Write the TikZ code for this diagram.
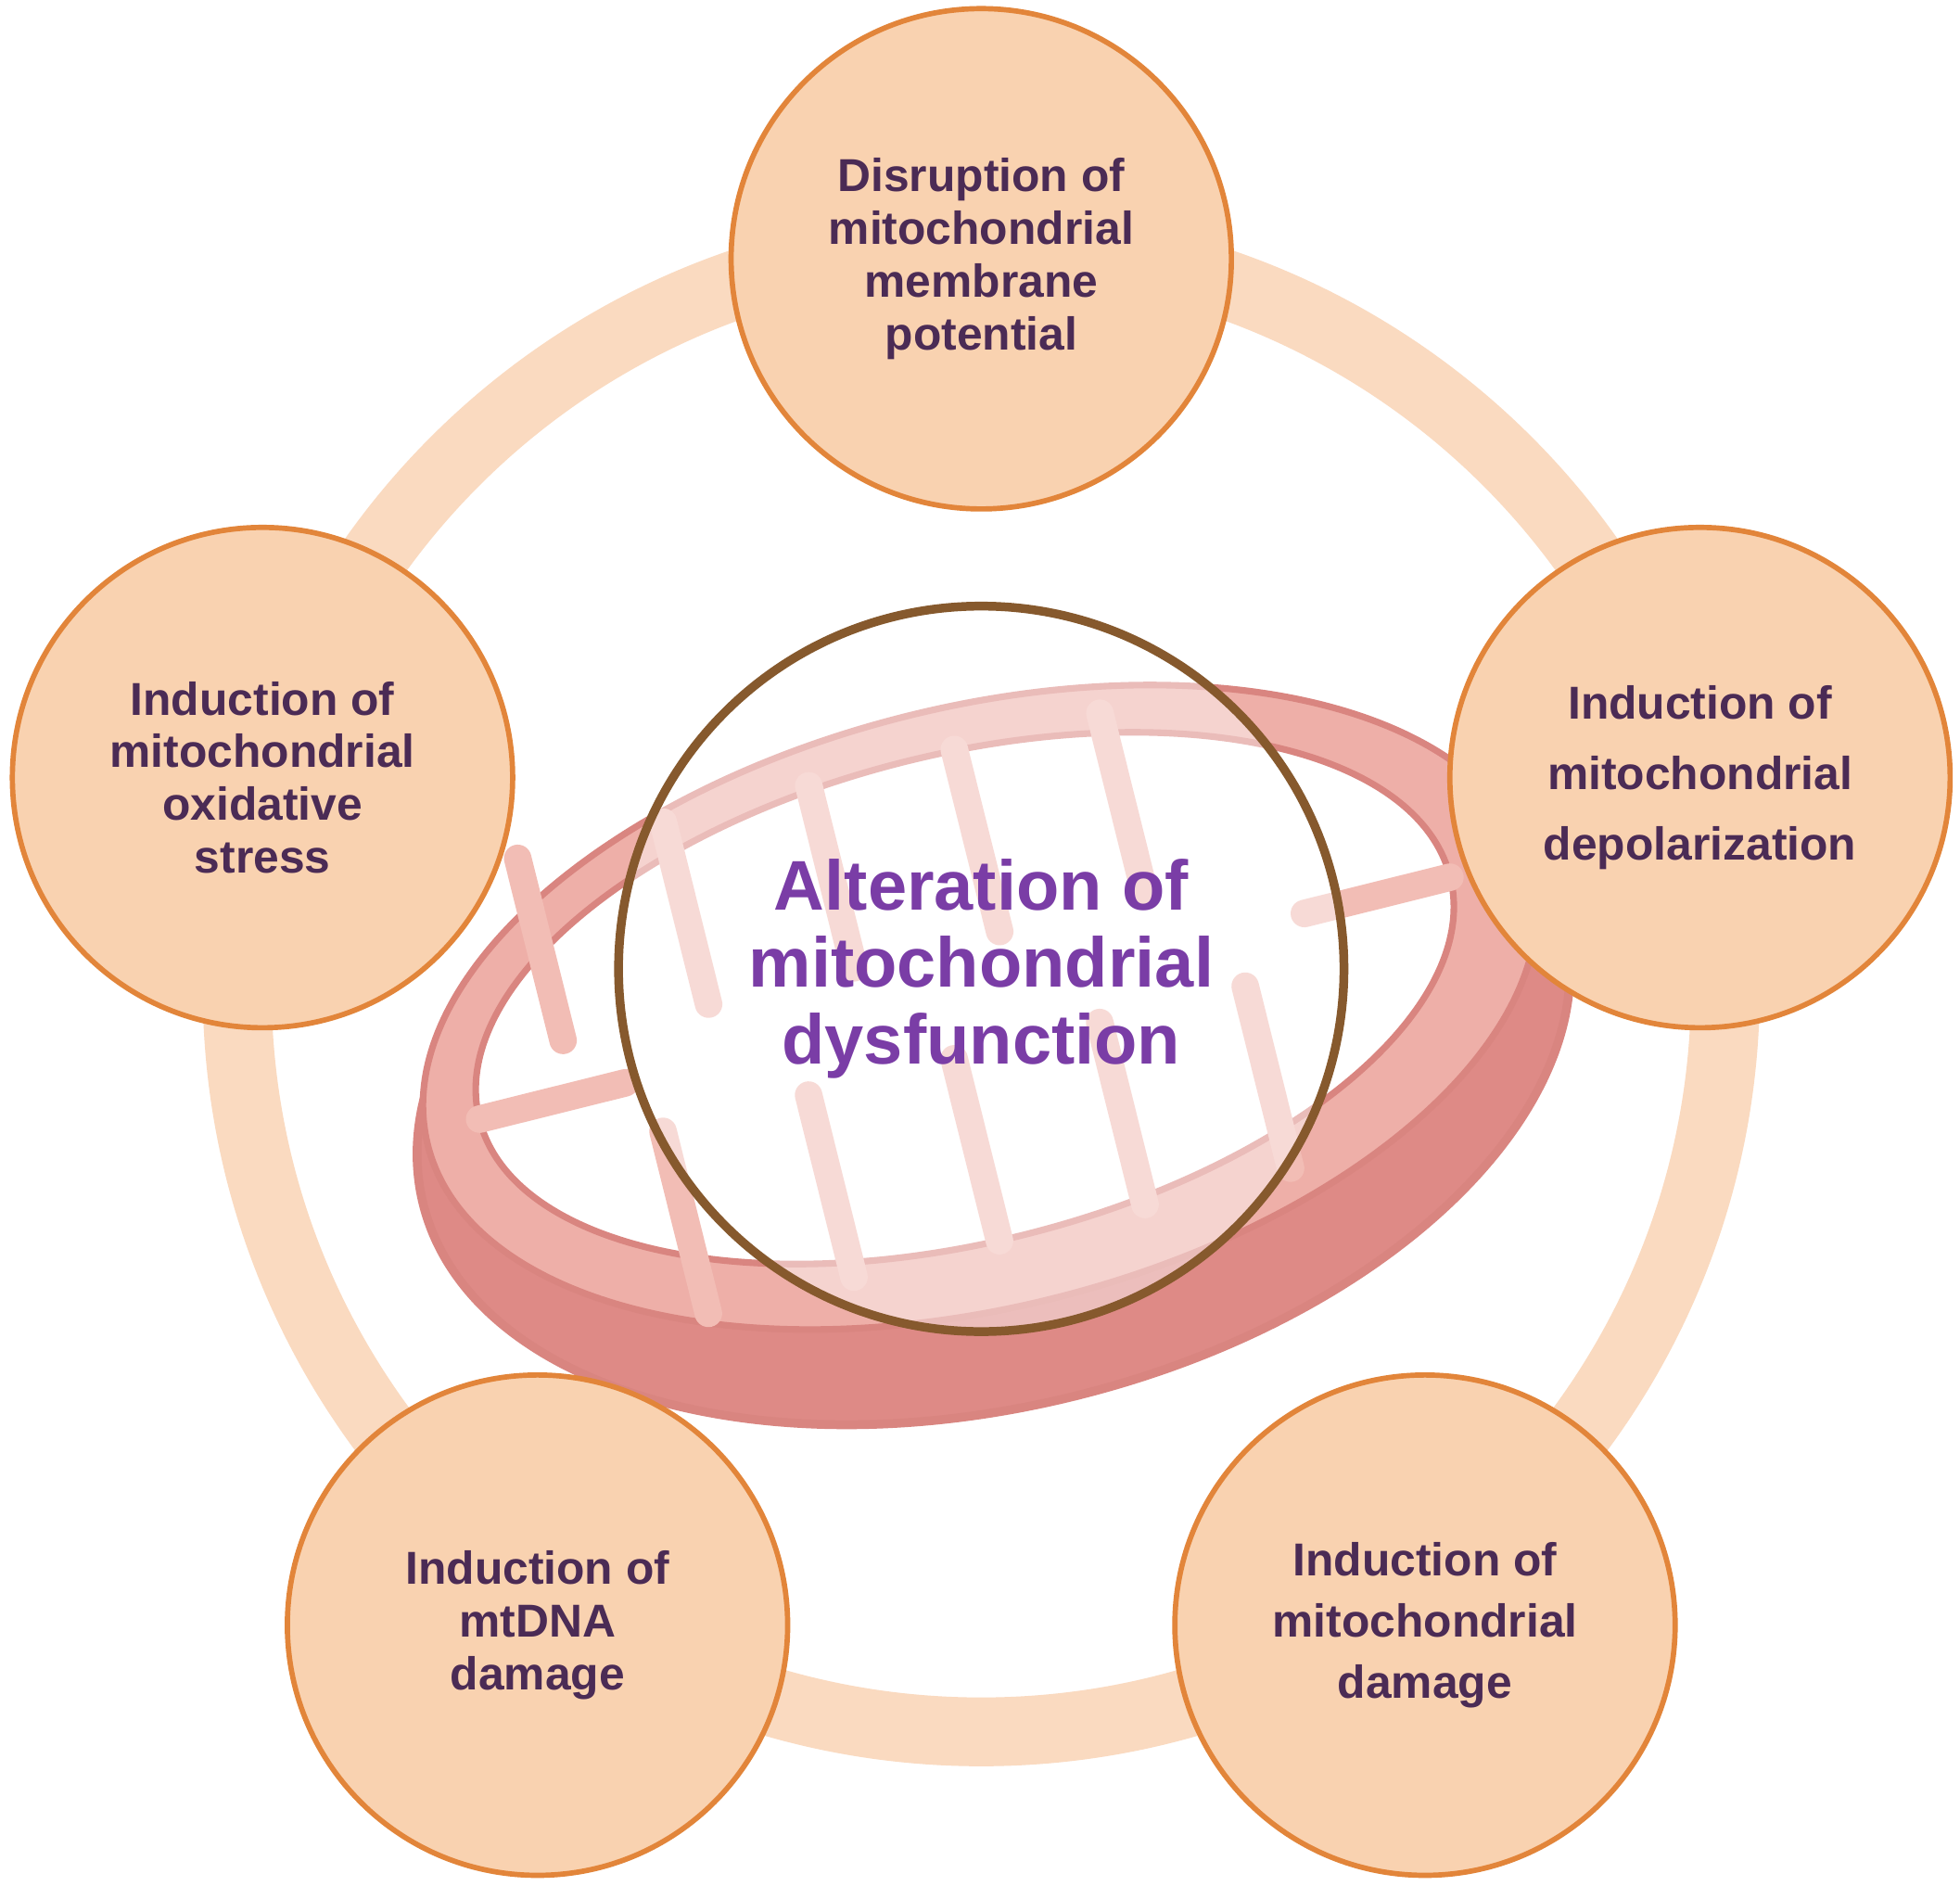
\documentclass[tikz,border=0pt]{standalone}
\usepackage{fontspec}
\setmainfont{Liberation Sans}
\begin{document}
\begin{tikzpicture}[x=0.01cm,y=-0.01cm,
 small/.style={circle,minimum size=4cm,inner sep=0,fill=peach,draw=edge,line width=1.2pt,
   align=center,text=txt,font=\bfseries\fontsize{10.5pt}{12pt}\selectfont},
 crista/.style={line width=0.22cm,line cap=round,draw=mitoCr}]
\definecolor{peach}{HTML}{F9D2B0}
\definecolor{ringc}{HTML}{FADAC0}
\definecolor{edge}{HTML}{E2853A}
\definecolor{txt}{HTML}{4B2B55}
\definecolor{ctxt}{HTML}{7A3DA6}
\definecolor{mitoOut}{HTML}{EEAFA8}
\definecolor{mitoDark}{HTML}{DE8A86}
\definecolor{mitoCr}{HTML}{F2BDB5}
\definecolor{mitoEdge}{HTML}{D98580}
\useasboundingbox (0,0) rectangle (1568,1508);
\fill[white] (0,0) rectangle (1568,1508);
% ring
\draw[ringc,line width=0.55cm] (785,790) circle (5.95cm);
% mitochondrion
\begin{scope}[rotate around={14:(790,830)}]
 \fill[mitoDark,draw=mitoEdge,line width=2pt] (790,850) ellipse (4.7cm and 2.75cm);
 \fill[mitoOut,draw=mitoEdge,line width=1.5pt] (790,805) ellipse (4.55cm and 2.4cm);
 \fill[white,draw=mitoEdge,line width=1.5pt] (780,795) ellipse (4.0cm and 1.95cm);
 \foreach \x in {460,580,700,820,940}{
   \draw[crista] (\x,600) -- (\x,750);
   \draw[crista] (\x+60,990) -- (\x+60,840);}
 \draw[crista] (380,795) -- (500,795);
 \draw[crista] (1060,795) -- (1180,795);
\end{scope}
% centre circle
\node[circle,minimum size=5.8cm,inner sep=0,fill=white,fill opacity=0.45,draw=brown!70!black,
  draw opacity=1,line width=2pt,text opacity=1,align=center,text=ctxt,
  font=\bfseries\fontsize{16pt}{17.5pt}\selectfont] (c) at (785,775)
  {Alteration of\\mitochondrial\\dysfunction};
\node[small] (t) at (785,207) {Disruption of\\mitochondrial\\membrane\\potential};
\node[small] (l) at (210,622) {Induction of\\mitochondrial\\oxidative\\stress};
\node[small,font=\bfseries\fontsize{10.5pt}{16pt}\selectfont] (r) at (1360,622) {Induction of\\mitochondrial\\depolarization};
\node[small] (bl) at (430,1300) {Induction of\\mtDNA\\damage};
\node[small,font=\bfseries\fontsize{10.5pt}{14pt}\selectfont] (br) at (1140,1300) {Induction of\\mitochondrial\\damage};
\end{tikzpicture}
\end{document}
